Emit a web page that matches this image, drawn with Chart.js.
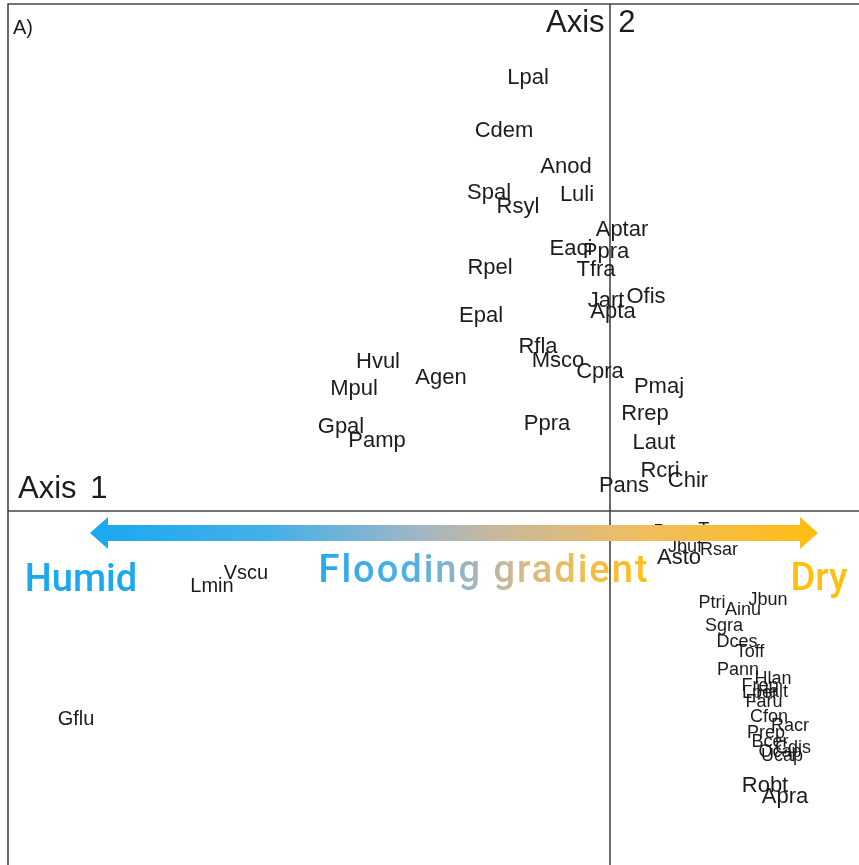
<!DOCTYPE html>
<html>
<head>
<meta charset="utf-8">
<script src="https://cdn.jsdelivr.net/npm/chart.js@4.4.1/dist/chart.umd.min.js"></script>
<style>
  html, body { margin: 0; padding: 0; background: #ffffff; }
  #wrap { width: 859px; height: 865px; position: relative; }
</style>
</head>
<body>
<div id="wrap"><canvas id="c" width="859" height="865"></canvas></div>
<script>
// Species codes and their ordination scores (Axis 1, Axis 2)
const species = [
  "Lpal","Cdem","Anod","Spal","Luli","Rsyl","Aptar","Eaci","Ppra","Tfra",
  "Rpel","Jart","Ofis","Apta","Epal","Rfla","Msco","Cpra","Hvul","Agen",
  "Mpul","Pmaj","Rrep","Gpal","Pamp","Ppra","Laut","Rcri","Chir","Pans",
  "Pcor","Tres","Jbuf","Rsar","Asto","Vscu","Lmin","Ptri","Ainu","Jbun",
  "Sgra","Dces","Toff","Pann","Hlan","Frep","Lper","Halt","Faru","Cfon",
  "Racr","Prep","Bcer","Cdis","Ocap","Ucap","Gflu","Robt","Apra"
];
const axis1 = [
  -0.82,-1.06,-0.44,-1.21,-0.33,-0.92, 0.12,-0.39,-0.04,-0.14,
  -1.20,-0.04, 0.36, 0.03,-1.29,-0.72,-0.52,-0.10,-2.32,-1.69,
  -2.56, 0.49, 0.35,-2.69,-2.33,-0.63, 0.44, 0.50, 0.78, 0.14,
   0.62, 1.06, 0.75, 1.09, 0.69,-3.64,-3.98, 1.02, 1.33, 1.58,
   1.14, 1.27, 1.40, 1.28, 1.63, 1.50, 1.50, 1.62, 1.54, 1.59,
   1.80, 1.56, 1.60, 1.83, 1.70, 1.72,-5.34, 1.55, 1.75
];
const axis2 = [
   4.33, 3.80, 3.44, 3.18, 3.16, 3.04, 2.81, 2.62, 2.59, 2.41,
   2.43, 2.10, 2.14, 1.99, 1.95, 1.64, 1.50, 1.39, 1.49, 1.33,
   1.22, 1.24, 0.97, 0.84, 0.70, 0.87, 0.68, 0.40, 0.30, 0.25,
  -0.21,-0.19,-0.36,-0.39,-0.47,-0.62,-0.75,-0.92,-0.99,-0.89,
  -1.15,-1.31,-1.41,-1.59,-1.68,-1.75,-1.82,-1.81,-1.91,-2.06,
  -2.15,-2.22,-2.31,-2.37,-2.41,-2.45,-2.08,-2.75,-2.86
];
const axisTitles = ["Axis 1", "Axis 2"];
const panelTag = "A)";
const gradientWords = ["Humid", "Flooding gradient", "Dry"];

// ---- rendering configuration ----
const SMALL = new Set(["Pcor","Tres","Jbuf","Rsar","Ptri","Ainu","Jbun","Sgra","Dces","Toff","Pann",
  "Hlan","Frep","Lper","Halt","Faru","Cfon","Racr","Prep","Bcer","Cdis","Ocap","Ucap"]);
const MEDIUM = new Set(["Vscu","Lmin","Gflu"]);

const points = species.map((s, i) => ({ x: axis1[i], y: axis2[i], label: s }));

const overlay = {
  id: 'overlay',
  beforeDatasetsDraw(chart) {
    const ctx = chart.ctx, xs = chart.scales.x, ys = chart.scales.y;
    const ca = chart.chartArea;
    ctx.save();
    ctx.strokeStyle = '#454545';
    ctx.lineWidth = 1.6;
    const fx = xs.getPixelForValue(-6.02), fy = ys.getPixelForValue(5.07);
    ctx.beginPath();
    ctx.moveTo(fx, ca.bottom + 2); ctx.lineTo(fx, fy); ctx.lineTo(ca.right + 2, fy);
    ctx.stroke();
    const x0 = xs.getPixelForValue(0), y0 = ys.getPixelForValue(0);
    ctx.beginPath();
    ctx.moveTo(x0, fy); ctx.lineTo(x0, ca.bottom + 2);
    ctx.moveTo(fx, y0); ctx.lineTo(ca.right + 2, y0);
    ctx.stroke();
    ctx.restore();
  },
  afterDatasetsDraw(chart) {
    const ctx = chart.ctx, xs = chart.scales.x, ys = chart.scales.y;
    const meta = chart.getDatasetMeta(0);
    ctx.save();
    ctx.fillStyle = '#1c1c1c';
    ctx.textAlign = 'center';
    ctx.textBaseline = 'middle';
    meta.data.forEach((el, i) => {
      const lab = points[i].label;
      const size = SMALL.has(lab) ? 18 : (MEDIUM.has(lab) ? 20 : 22);
      ctx.font = size + 'px "Liberation Sans", Arial, sans-serif';
      ctx.fillText(lab, el.x, el.y);
    });
    // panel tag and axis titles
    ctx.textAlign = 'left';
    ctx.font = '20px "Liberation Sans", Arial, sans-serif';
    ctx.fillText(panelTag, xs.getPixelForValue(-5.97), ys.getPixelForValue(4.83));
    ctx.font = '31px "Liberation Sans", Arial, sans-serif';
    try { ctx.wordSpacing = '5px'; } catch (e) {}
    ctx.fillText(axisTitles[0], xs.getPixelForValue(-5.92), ys.getPixelForValue(0.22));
    ctx.fillText(axisTitles[1], xs.getPixelForValue(-0.64), ys.getPixelForValue(4.88));
    try { ctx.wordSpacing = '0px'; } catch (e) {}
    ctx.restore();
  },
  afterDraw(chart) {
    const ctx = chart.ctx, xs = chart.scales.x, ys = chart.scales.y;
    ctx.save();
    // gradient arrow
    const xl = xs.getPixelForValue(-5.20), xr = xs.getPixelForValue(2.08);
    const yc = ys.getPixelForValue(-0.22);
    const half = 8, headH = 16, headL = 18;
    const g = ctx.createLinearGradient(xl, 0, xr, 0);
    g.addColorStop(0, '#19a8f0');
    g.addColorStop(0.25, '#45b0e8');
    g.addColorStop(0.45, '#9fb6c6');
    g.addColorStop(0.55, '#c6b89e');
    g.addColorStop(0.75, '#eebd62');
    g.addColorStop(1, '#ffbd12');
    ctx.fillStyle = g;
    ctx.beginPath();
    ctx.moveTo(xl, yc);
    ctx.lineTo(xl + headL, yc - headH);
    ctx.lineTo(xl + headL, yc - half);
    ctx.lineTo(xr - headL, yc - half);
    ctx.lineTo(xr - headL, yc - headH);
    ctx.lineTo(xr, yc);
    ctx.lineTo(xr - headL, yc + headH);
    ctx.lineTo(xr - headL, yc + half);
    ctx.lineTo(xl + headL, yc + half);
    ctx.lineTo(xl + headL, yc + headH);
    ctx.closePath();
    ctx.fill();

    // gradient words
    ctx.font = '500 38px Roboto, "Open Sans", sans-serif';
    ctx.textBaseline = 'middle';
    ctx.textAlign = 'center';
    ctx.fillStyle = '#1aa8ee';
    ctx.fillText(gradientWords[0], xs.getPixelForValue(-5.29), ys.getPixelForValue(-0.70));
    ctx.fillStyle = '#ffbf10';
    ctx.fillText(gradientWords[2], xs.getPixelForValue(2.09), ys.getPixelForValue(-0.69));
    try { ctx.letterSpacing = '2px'; } catch (e) {}
    const cx = xs.getPixelForValue(-1.26), cy = ys.getPixelForValue(-0.61);
    const w = ctx.measureText(gradientWords[1]).width;
    const tg = ctx.createLinearGradient(cx - w / 2, 0, cx + w / 2, 0);
    tg.addColorStop(0, '#26a9ee');
    tg.addColorStop(0.3, '#55b1e4');
    tg.addColorStop(0.48, '#a9b6b8');
    tg.addColorStop(0.6, '#d2b88f');
    tg.addColorStop(0.8, '#f2bc50');
    tg.addColorStop(1, '#ffc010');
    ctx.fillStyle = tg;
    ctx.fillText(gradientWords[1], cx, cy);
    ctx.restore();
  }
};

new Chart(document.getElementById('c'), {
  type: 'scatter',
  data: {
    datasets: [{
      data: points,
      pointRadius: 0,
      pointHoverRadius: 0,
      backgroundColor: 'rgba(0,0,0,0)'
    }]
  },
  options: {
    responsive: false,
    animation: false,
    events: [],
    layout: { padding: 0 },
    plugins: { legend: { display: false }, tooltip: { enabled: false } },
    scales: {
      x: { type: 'linear', display: false, min: -6.10, max: 2.49 },
      y: { type: 'linear', display: false, min: -3.54, max: 5.11 }
    }
  },
  plugins: [overlay]
});
</script>
</body>
</html>
